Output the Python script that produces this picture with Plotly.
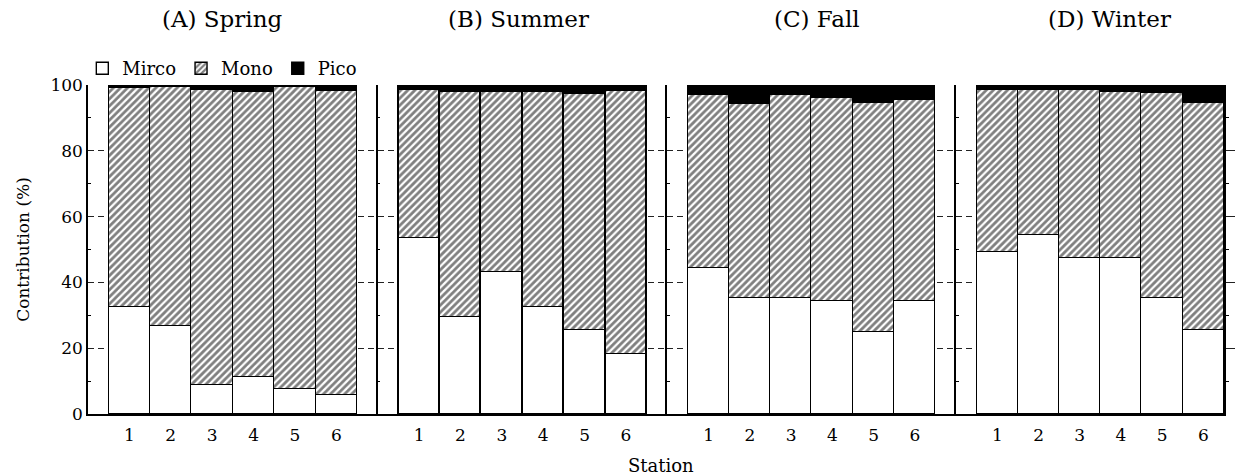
import plotly.graph_objects as go

# Station numbers and seasonal panels
stations = [1, 2, 3, 4, 5, 6]
seasons = ["(A) Spring", "(B) Summer", "(C) Fall", "(D) Winter"]
size_classes = ["Mirco", "Mono", "Pico"]

# Contribution (%) of each size fraction per station
micro_spring = [32.5, 26.7, 8.8, 11.2, 7.6, 5.8]
mono_spring = [66.7, 72.7, 89.7, 86.8, 91.7, 92.5]
pico_spring = [0.8, 0.6, 1.5, 2.0, 0.7, 1.7]

micro_summer = [53.6, 29.5, 43.2, 32.5, 25.5, 18.2]
mono_summer = [44.9, 68.3, 54.6, 65.3, 71.8, 80.0]
pico_summer = [1.5, 2.2, 2.2, 2.2, 2.7, 1.8]

micro_fall = [44.5, 35.3, 35.3, 34.5, 25.0, 34.3]
mono_fall = [52.6, 59.0, 61.7, 61.5, 69.5, 61.0]
pico_fall = [2.9, 5.7, 3.0, 4.0, 5.5, 4.7]

micro_winter = [49.3, 54.5, 47.5, 47.3, 35.3, 25.5]
mono_winter = [49.1, 44.1, 50.9, 50.5, 62.3, 69.0]
pico_winter = [1.6, 1.4, 1.6, 2.2, 2.4, 5.5]

y_ticks = [0, 20, 40, 60, 80, 100]

series = [
    (micro_spring, mono_spring, pico_spring),
    (micro_summer, mono_summer, pico_summer),
    (micro_fall, mono_fall, pico_fall),
    (micro_winter, mono_winter, pico_winter),
]

FONT = "DejaVu Serif"
W, H = 1245, 475
ML, MR, MT, MB = 88, 12, 85, 61
PW = W - ML - MR
PH = H - MT - MB

fig = go.Figure()

outline = dict(color="black", width=1.4)
styles = [
    dict(color="white", line=outline),
    dict(color="white", line=outline,
         pattern=dict(shape="/", fgcolor="black", bgcolor="white", size=5, solidity=0.55)),
    dict(color="black", line=outline),
]

for i, vals in enumerate(series):
    xa = "x" if i == 0 else f"x{i + 1}"
    ya = "y" if i == 0 else f"y{i + 1}"
    for k, (name, v) in enumerate(zip(size_classes, vals)):
        fig.add_trace(go.Bar(
            x=stations, y=v, name=name, marker=styles[k],
            xaxis=xa, yaxis=ya, legendgroup=name, showlegend=(i == 0),
            width=1.0,
        ))

# right-hand axis of the last panel
fig.add_trace(go.Scatter(x=[], y=[], xaxis="x4", yaxis="y5", showlegend=False))

# panel widths in pixels (axis to axis)
edges_px = [88, 380, 672, 963, 1233]
domains = [((edges_px[i] - ML) / PW, (edges_px[i + 1] - ML) / PW) for i in range(4)]
domains[-1] = (domains[-1][0], 1.0)
ranges = [[0, 7], [0, 7], [0, 7], [0, 6.5]]

tickfont = dict(family=FONT, size=17, color="black")

for i in range(4):
    sx = "" if i == 0 else str(i + 1)
    fig.layout["xaxis" + sx] = dict(
        domain=list(domains[i]), range=ranges[i], anchor="y" + sx,
        tickvals=stations, ticks="", showline=True, linecolor="black",
        linewidth=1.5, showgrid=False, zeroline=False, tickfont=tickfont,
        ticklabelstandoff=5, fixedrange=True,
    )
    fig.layout["yaxis" + sx] = dict(
        domain=[0, 1], range=[0, 100], anchor="x" + sx,
        tickvals=y_ticks, ticks="", showticklabels=(i == 0),
        showline=True, linecolor="black", linewidth=1.5,
        showgrid=True, gridcolor="#222", gridwidth=1.3, griddash="6px,4px",
        zeroline=False, tickfont=tickfont,
        minor=dict(tickvals=[10, 30, 50, 70, 90], ticks="inside",
                   ticklen=3, tickcolor="black", tickwidth=1.2, showgrid=False),
        fixedrange=True,
    )

fig.layout["yaxis"].title = dict(text="Contribution (%)",
                                 font=dict(family=FONT, size=17, color="black"),
                                 standoff=16)

fig.layout["yaxis5"] = dict(
    overlaying="y4", anchor="x4", side="right", range=[0, 100],
    tickvals=[20, 40, 60, 80], ticks="outside", ticklen=9, tickcolor="#222",
    tickwidth=1.3, showticklabels=False, showline=True, linecolor="black",
    linewidth=1.5, showgrid=False, zeroline=False,
    minor=dict(tickvals=[10, 30, 50, 70, 90], ticks="outside", ticklen=3,
               tickcolor="black", tickwidth=1.2, showgrid=False),
    fixedrange=True,
)

# panel titles
title_px = [224, 522, 823, 1118]
for name, px in zip(seasons, title_px):
    fig.add_annotation(
        text=name, xref="paper", yref="paper",
        x=(px - ML) / PW, y=1 + (MT - 19) / PH, xanchor="center", yanchor="middle",
        showarrow=False, font=dict(family=FONT, size=23, color="black"),
    )

fig.add_annotation(
    text="Station", xref="paper", yref="paper",
    x=(666 - ML) / PW, y=-(465 - (H - MB)) / PH, xanchor="center", yanchor="middle",
    showarrow=False, font=dict(family=FONT, size=18, color="black"),
)

fig.update_layout(
    width=W, height=H,
    margin=dict(l=ML, r=MR, t=MT, b=MB),
    paper_bgcolor="white", plot_bgcolor="white",
    barmode="stack", bargap=0,
    showlegend=True,
    legend=dict(orientation="h", x=-0.005, xanchor="left",
                y=1 + (MT - 50) / PH, yanchor="top",
                font=dict(family=FONT, size=18, color="black"),
                bgcolor="rgba(0,0,0,0)", itemwidth=30, tracegroupgap=0),
    font=dict(family=FONT, color="black"),
)

fig.write_html("out.html")
